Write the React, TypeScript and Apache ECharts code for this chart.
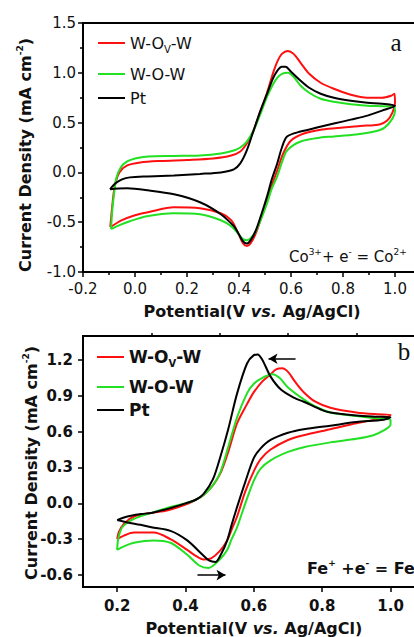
import React, { useEffect, useRef } from "react";
import * as echarts from "echarts";

// ---------- Data: panel a (Co3+/Co2+) ----------
const redA: number[][] = [
  [-0.095, -0.55], [-0.088, -0.35], [-0.078, -0.14], [-0.06, 0.0], [-0.03, 0.07], [0.02, 0.1],
  [0.1, 0.115], [0.2, 0.125], [0.3, 0.14], [0.37, 0.17], [0.405, 0.21], [0.43, 0.29], [0.456, 0.42],
  [0.48, 0.6], [0.508, 0.8], [0.53, 0.99], [0.547, 1.11], [0.565, 1.19], [0.588, 1.22], [0.61, 1.19],
  [0.637, 1.1], [0.67, 0.99], [0.714, 0.9], [0.765, 0.84], [0.83, 0.78], [0.894, 0.75], [0.95, 0.75],
  [0.985, 0.77], [0.998, 0.79], [1.0, 0.7], [0.99, 0.6], [0.97, 0.52], [0.94, 0.48], [0.89, 0.47],
  [0.8, 0.45], [0.72, 0.43], [0.65, 0.39], [0.6, 0.32], [0.57, 0.19], [0.547, 0.02], [0.525, -0.14],
  [0.508, -0.28], [0.485, -0.46], [0.465, -0.61], [0.445, -0.71], [0.43, -0.74], [0.415, -0.71],
  [0.395, -0.6], [0.37, -0.48], [0.33, -0.41], [0.25, -0.36], [0.15, -0.35], [0.05, -0.4], [0.0, -0.43],
  [-0.05, -0.48], [-0.095, -0.55],
];
const greenA: number[][] = [
  [-0.092, -0.57], [-0.088, -0.4], [-0.08, -0.2], [-0.072, -0.06], [-0.055, 0.05], [-0.03, 0.11],
  [0.0, 0.14], [0.05, 0.16], [0.15, 0.165], [0.25, 0.17], [0.33, 0.19], [0.38, 0.22], [0.405, 0.25],
  [0.43, 0.31], [0.456, 0.42], [0.48, 0.57], [0.508, 0.76], [0.53, 0.88], [0.547, 0.95], [0.565, 0.99],
  [0.588, 1.0], [0.61, 0.96], [0.637, 0.87], [0.67, 0.8], [0.714, 0.74], [0.765, 0.71], [0.83, 0.685],
  [0.894, 0.67], [0.95, 0.665], [0.995, 0.66], [1.0, 0.62], [0.99, 0.54], [0.96, 0.45], [0.92, 0.41],
  [0.85, 0.38], [0.765, 0.36], [0.714, 0.35], [0.637, 0.31], [0.585, 0.22], [0.565, 0.1], [0.547, -0.04],
  [0.525, -0.17], [0.508, -0.31], [0.485, -0.47], [0.465, -0.59], [0.445, -0.66], [0.43, -0.68],
  [0.415, -0.67], [0.395, -0.61], [0.37, -0.54], [0.33, -0.48], [0.25, -0.42], [0.15, -0.41],
  [0.045, -0.44], [-0.02, -0.49], [-0.06, -0.53], [-0.092, -0.57],
];
const blackA: number[][] = [
  [-0.096, -0.17], [-0.075, -0.11], [-0.05, -0.07], [-0.02, -0.05], [0.05, -0.04], [0.15, -0.03],
  [0.25, -0.015], [0.33, 0.0], [0.38, 0.03], [0.405, 0.09], [0.43, 0.22], [0.456, 0.42], [0.48, 0.6],
  [0.508, 0.79], [0.53, 0.94], [0.547, 1.02], [0.565, 1.06], [0.579, 1.06], [0.6, 1.01], [0.637, 0.92],
  [0.67, 0.85], [0.714, 0.79], [0.765, 0.75], [0.83, 0.72], [0.894, 0.7], [0.95, 0.69], [1.0, 0.67],
  [0.95, 0.62], [0.894, 0.57], [0.83, 0.53], [0.765, 0.49], [0.7, 0.45], [0.637, 0.41], [0.585, 0.36],
  [0.565, 0.25], [0.547, 0.09], [0.525, -0.08], [0.508, -0.24], [0.485, -0.43], [0.465, -0.58],
  [0.445, -0.68], [0.43, -0.715], [0.415, -0.69], [0.395, -0.6], [0.38, -0.54], [0.33, -0.42],
  [0.25, -0.3], [0.15, -0.22], [0.05, -0.18], [-0.03, -0.16], [-0.08, -0.165], [-0.096, -0.17],
];

// ---------- Data: panel b (Fe) ----------
const redB: number[][] = [
  [0.2, -0.3], [0.205, -0.24], [0.22, -0.17], [0.249, -0.11], [0.3, -0.08], [0.346, -0.06], [0.4, -0.01],
  [0.43, 0.03], [0.453, 0.07], [0.48, 0.15], [0.502, 0.25], [0.525, 0.43], [0.551, 0.67], [0.58, 0.83],
  [0.6, 0.93], [0.625, 1.02], [0.649, 1.08], [0.665, 1.12], [0.683, 1.13], [0.7, 1.1], [0.72, 1.02],
  [0.746, 0.93], [0.78, 0.85], [0.824, 0.8], [0.9, 0.76], [0.96, 0.745], [1.0, 0.74], [0.99, 0.72],
  [0.9, 0.67], [0.824, 0.62], [0.746, 0.57], [0.7, 0.53], [0.649, 0.45], [0.62, 0.37], [0.6, 0.27],
  [0.575, 0.1], [0.551, -0.11], [0.535, -0.22], [0.522, -0.31], [0.5, -0.4], [0.475, -0.46],
  [0.453, -0.47], [0.43, -0.44], [0.405, -0.39], [0.356, -0.3], [0.307, -0.245], [0.249, -0.245],
  [0.22, -0.27], [0.2, -0.3],
];
const greenB: number[][] = [
  [0.2, -0.39], [0.203, -0.3], [0.215, -0.2], [0.249, -0.13], [0.3, -0.08], [0.356, -0.03], [0.4, 0.0],
  [0.43, 0.03], [0.453, 0.07], [0.48, 0.15], [0.502, 0.26], [0.525, 0.47], [0.551, 0.72], [0.58, 0.92],
  [0.6, 1.0], [0.625, 1.05], [0.654, 1.08], [0.675, 1.05], [0.7, 0.97], [0.746, 0.87], [0.78, 0.81],
  [0.824, 0.76], [0.9, 0.73], [0.96, 0.71], [1.0, 0.7], [1.0, 0.66], [0.98, 0.61], [0.95, 0.57],
  [0.9, 0.54], [0.824, 0.51], [0.746, 0.47], [0.7, 0.43], [0.649, 0.36], [0.62, 0.29], [0.6, 0.19],
  [0.575, 0.0], [0.551, -0.2], [0.535, -0.3], [0.522, -0.39], [0.5, -0.47], [0.468, -0.54],
  [0.44, -0.52], [0.405, -0.43], [0.356, -0.33], [0.307, -0.31], [0.249, -0.33], [0.22, -0.36],
  [0.2, -0.39],
];
const blackB: number[][] = [
  [0.2, -0.14], [0.23, -0.11], [0.27, -0.09], [0.3, -0.08], [0.356, -0.04], [0.4, 0.0], [0.43, 0.03],
  [0.453, 0.08], [0.48, 0.2], [0.502, 0.39], [0.525, 0.62], [0.551, 0.92], [0.58, 1.17], [0.6, 1.24],
  [0.611, 1.245], [0.625, 1.2], [0.649, 1.06], [0.68, 0.95], [0.72, 0.88], [0.746, 0.85], [0.8, 0.78],
  [0.824, 0.76], [0.9, 0.735], [0.96, 0.725], [1.0, 0.72], [0.98, 0.7], [0.9, 0.68], [0.824, 0.65],
  [0.746, 0.62], [0.7, 0.59], [0.649, 0.53], [0.62, 0.46], [0.6, 0.38], [0.575, 0.18], [0.551, -0.03],
  [0.535, -0.18], [0.522, -0.31], [0.505, -0.42], [0.488, -0.49], [0.47, -0.48], [0.45, -0.43],
  [0.405, -0.31], [0.356, -0.23], [0.3, -0.2], [0.268, -0.18], [0.23, -0.16], [0.2, -0.14],
];

// Scan-direction arrows in panel b (data coordinates)
const arrowsB: number[][][] = [
  [[0.722, 1.21], [0.643, 1.21]],
  [[0.435, -0.6], [0.517, -0.6]],
];

// Axis tick labels
const xTicksA = [-0.2, 0.0, 0.2, 0.4, 0.6, 0.8, 1.0];
const yTicksB = [-0.6, -0.3, 0.0, 0.3, 0.6, 0.9, 1.2];
const yMinorB = [-0.45, -0.15, 0.15, 0.45, 0.75, 1.05, 1.35];
const xTicksB = [0.2, 0.4, 0.6, 0.8, 1.0];
const xMinorB = [0.3, 0.5, 0.7, 0.9];

const seriesNames = ["W-Ov-W", "W-O-W", "Pt"];
const colors = ["#ff1010", "#22e022", "#000000"];

const FONT = "DejaVu Sans";

export default function App() {
  const ref = useRef<HTMLDivElement>(null);
  useEffect(() => {
    if (!ref.current) return;
    const chart = echarts.init(ref.current, null, { renderer: "svg" });

    const fmt = (v: number) => v.toFixed(1);
    const axisLine = { onZero: false, lineStyle: { color: "#000", width: 2 } };
    const tick = { show: true, inside: false, length: 5, lineStyle: { color: "#000", width: 1.5 } };
    const minor = { show: true, splitNumber: 2, length: 3, lineStyle: { color: "#000", width: 1.5 } };

    const xNameStyle = {
      fontFamily: FONT,
      rich: {
        b: { fontFamily: FONT, fontWeight: "bold", fontSize: 16, color: "#111" },
        i: { fontFamily: FONT, fontWeight: "bold", fontStyle: "italic", fontSize: 16, color: "#111" },
      },
    };

    const yTitle = (x: number, y: number) => ({
      type: "text",
      x,
      y,
      rotation: Math.PI / 2,
      style: {
        text: "{b|Current Density (mA cm}{sup|-2}{b|)}",
        align: "center",
        verticalAlign: "middle",
        rich: {
          b: { fontFamily: FONT, fontWeight: "bold", fontSize: 16, lineHeight: 20, fill: "#111" },
          sup: { fontFamily: FONT, fontWeight: "bold", fontSize: 9, lineHeight: 10, verticalAlign: "top", fill: "#111" },
        },
      },
    });

    const line = (name: string, data: number[][], color: string, gi: number, extra: any = {}) => ({
      type: "line",
      name,
      data,
      xAxisIndex: gi,
      yAxisIndex: gi,
      showSymbol: false,
      smooth: 0.3,
      lineStyle: { color, width: 2 },
      itemStyle: { color },
      z: 3,
      ...extra,
    });

    const legendItems = (x: number, ys: number[], bold: boolean, size: number) => {
      const out: any[] = [];
      const fw = bold ? "bold" : "normal";
      const texts = ["{b|W-O}{sub|V}{b|-W}", "{b|W-O-W}", "{b|Pt}"];
      ys.forEach((y, i) => {
        out.push({
          type: "line",
          shape: { x1: x, y1: y, x2: x + 27, y2: y },
          style: { stroke: colors[i], lineWidth: 2 },
        });
        out.push({
          type: "text",
          x: x + 32,
          y,
          style: {
            text: texts[i],
            verticalAlign: "middle",
            rich: {
              b: { fontFamily: FONT, fontWeight: fw, fontSize: size, lineHeight: 22, fill: "#111" },
              sub: { fontFamily: FONT, fontWeight: fw, fontSize: 10, lineHeight: 10, verticalAlign: "bottom", fill: "#111" },
            },
          },
        });
      });
      return out;
    };

    const option: any = {
      animation: false,
      backgroundColor: "#fff",
      grid: [
        { left: 83, top: 23, width: 338, height: 249, show: true, borderColor: "#000", borderWidth: 2, backgroundColor: "#fff" },
        { left: 83, top: 336, width: 341.7, height: 251.3, show: true, borderColor: "#000", borderWidth: 2, backgroundColor: "#fff" },
      ],
      xAxis: [
        {
          type: "value", gridIndex: 0, min: -0.2, max: 1.1, interval: 0.2,
          axisLine, axisTick: tick, minorTick: minor, splitLine: { show: false }, minorSplitLine: { show: false },
          axisLabel: { customValues: xTicksA, formatter: fmt, fontFamily: FONT, fontSize: 15, color: "#111", margin: 9 },
          name: "{b|Potential(V }{i|vs.}{b| Ag/AgCl)}", nameLocation: "middle", nameGap: 31,
          nameMoveOverlap: false, nameTextStyle: xNameStyle,
        },
        {
          type: "value", gridIndex: 1, min: 0.1, max: 1.1,
          axisLine, axisTick: { ...tick, customValues: xTicksB }, splitLine: { show: false },
          axisLabel: { customValues: xTicksB, formatter: fmt, fontFamily: FONT, fontWeight: "bold", fontSize: 15, color: "#111", margin: 11 },
          name: "{b|Potential(V }{i|vs.}{b| Ag/AgCl)}", nameLocation: "middle", nameGap: 33,
          nameMoveOverlap: false, nameTextStyle: xNameStyle,
        },
        {
          type: "value", gridIndex: 1, min: 0.1, max: 1.1,
          axisLine: { show: false, onZero: false }, splitLine: { show: false },
          axisTick: { show: true, length: 3, customValues: xMinorB, lineStyle: { color: "#000", width: 1.5 } },
          axisLabel: { show: false },
        },
      ],
      yAxis: [
        {
          type: "value", gridIndex: 0, min: -1.0, max: 1.5, interval: 0.5,
          axisLine, axisTick: tick, minorTick: minor, splitLine: { show: false }, minorSplitLine: { show: false },
          axisLabel: { formatter: fmt, fontFamily: FONT, fontSize: 15, color: "#111", margin: 7 },
        },
        {
          type: "value", gridIndex: 1, min: -0.7, max: 1.4,
          axisLine, axisTick: { ...tick, customValues: yTicksB }, splitLine: { show: false },
          axisLabel: { customValues: yTicksB, formatter: fmt, fontFamily: FONT, fontWeight: "bold", fontSize: 15, color: "#111", margin: 10 },
        },
        {
          type: "value", gridIndex: 1, min: -0.7, max: 1.4,
          axisLine: { show: false, onZero: false }, splitLine: { show: false },
          axisTick: { show: true, length: 3, customValues: yMinorB, lineStyle: { color: "#000", width: 1.5 } },
          axisLabel: { show: false },
        },
      ],
      series: [
        line(seriesNames[0], redA, colors[0], 0),
        line(seriesNames[1], greenA, colors[1], 0),
        line(seriesNames[2], blackA, colors[2], 0),
        line(seriesNames[0], redB, colors[0], 1),
        line(seriesNames[1], greenB, colors[1], 1),
        line(seriesNames[2], blackB, colors[2], 1, {
          markLine: {
            silent: true,
            symbol: ["none", "arrow"],
            symbolSize: [8, 9],
            label: { show: false },
            lineStyle: { color: "#000", width: 1.5, type: "solid" },
            data: arrowsB.map((a) => [{ coord: a[0] }, { coord: a[1] }]),
          },
        }),
      ],
      graphic: [
        yTitle(25, 155),
        yTitle(31, 463),
        ...legendItems(98, [43, 74, 98], false, 16),
        ...legendItems(97, [357, 387, 410], true, 17),
        {
          type: "text", x: 396, y: 42,
          style: { text: "a", fontFamily: "Liberation Serif", fontSize: 25, fill: "#111", align: "center", verticalAlign: "middle" },
        },
        {
          type: "text", x: 404, y: 351,
          style: { text: "b", fontFamily: "Liberation Serif", fontSize: 25, fill: "#111", align: "center", verticalAlign: "middle" },
        },
        {
          type: "text", x: 289, y: 257,
          style: {
            text: "{n|Co}{sup|3+}{n|+ e}{sup|-}{n| = Co}{sup|2+}",
            verticalAlign: "middle",
            rich: {
              n: { fontFamily: FONT, fontSize: 15, lineHeight: 20, fill: "#111" },
              sup: { fontFamily: FONT, fontSize: 9, lineHeight: 10, verticalAlign: "top", fill: "#111" },
            },
          },
        },
        {
          type: "text", x: 307, y: 568,
          style: {
            text: "{n|Fe}{sup|+}{n| +e}{sup|-}{n| = Fe}",
            verticalAlign: "middle",
            rich: {
              n: { fontFamily: FONT, fontWeight: "bold", fontSize: 16, lineHeight: 20, fill: "#111" },
              sup: { fontFamily: FONT, fontWeight: "bold", fontSize: 9, lineHeight: 10, verticalAlign: "top", fill: "#111" },
            },
          },
        },
      ],
    };
    chart.setOption(option);
    return () => chart.dispose();
  }, []);

  return (
    <div style={{ position: "fixed", left: 0, top: 0, width: 414, height: 637, overflow: "hidden", background: "#fff" }}>
      <div ref={ref} style={{ width: 432, height: 637 }} />
    </div>
  );
}
